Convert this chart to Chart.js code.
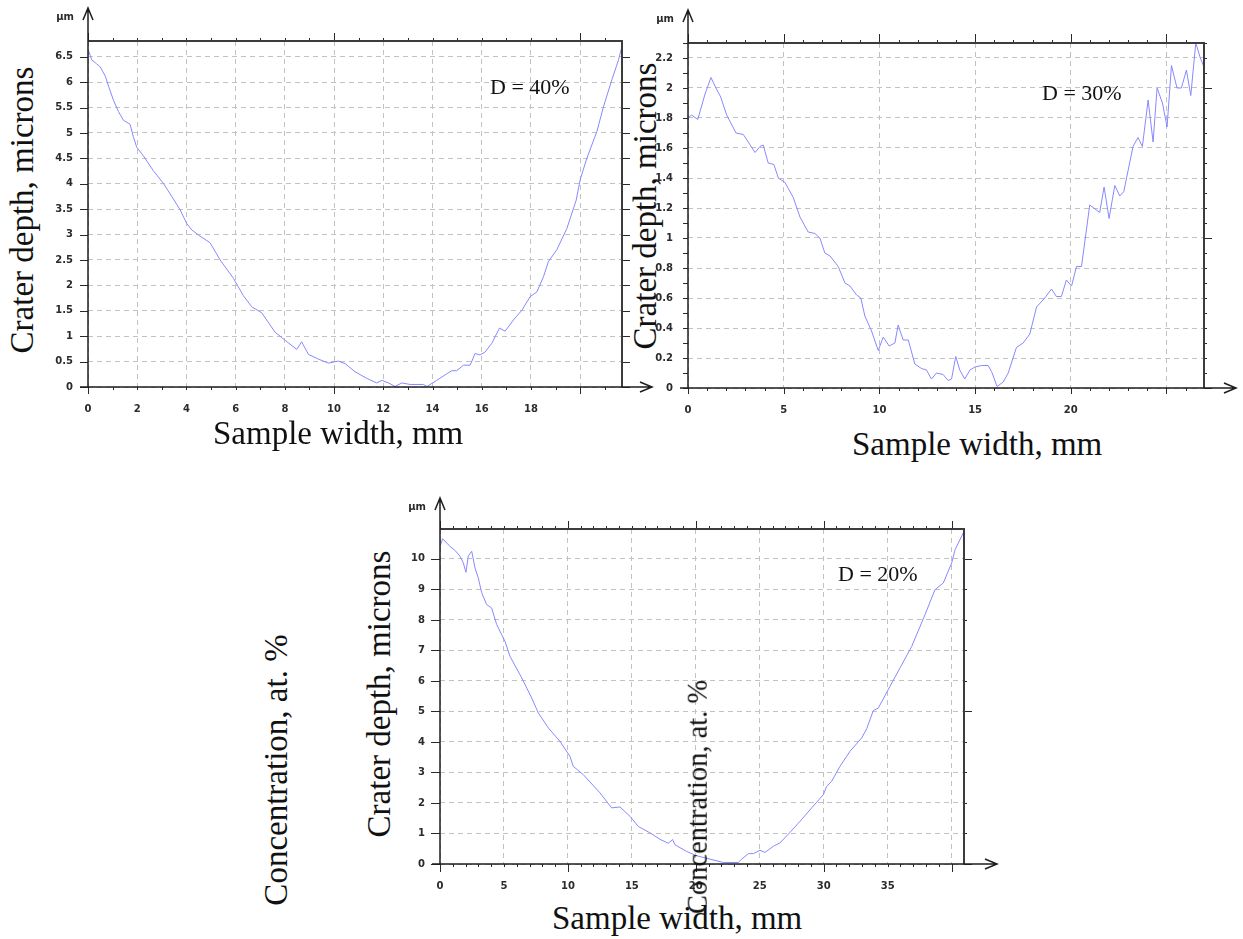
<!DOCTYPE html>
<html>
<head>
<meta charset="utf-8">
<title>Crater depth profiles</title>
<script src="https://cdn.jsdelivr.net/npm/chart.js@4.4.1/dist/chart.umd.min.js"></script>
<style>
  html, body { margin: 0; padding: 0; background: #fff; }
  body { width: 1243px; height: 939px; position: relative; overflow: hidden; }
  canvas { position: absolute; }
  .lbl { position: absolute; font-family: "Liberation Serif", "Times New Roman", serif; color: #111; white-space: nowrap; line-height: 1; }
  .rot { transform: translate(-50%, -50%) rotate(-90deg); }
</style>
</head>
<body>
<div class="lbl rot" style="left:22px;top:210px;font-size:33px">Crater depth, microns</div>
<div class="lbl rot" style="left:645px;top:206px;font-size:33px">Crater depth, microns</div>
<div class="lbl rot" style="left:379px;top:694px;font-size:33px">Crater depth, microns</div>
<div class="lbl rot" style="left:276px;top:770px;font-size:33px">Concentration, at. %</div>

<canvas id="chart40" width="620" height="420" style="left:40px;top:0px"></canvas>
<canvas id="chart30" width="603" height="420" style="left:640px;top:0px"></canvas>
<canvas id="chart20" width="615" height="410" style="left:395px;top:490px"></canvas>

<div class="lbl" style="left:213px;top:417px;font-size:33px">Sample width, mm</div>
<div class="lbl" style="left:852px;top:428px;font-size:33px">Sample width, mm</div>
<div class="lbl" style="left:552px;top:902px;font-size:33px">Sample width, mm</div>
<div class="lbl" style="left:490px;top:76px;font-size:22px">D = 40%</div>
<div class="lbl" style="left:1042px;top:82px;font-size:22px">D = 30%</div>
<div class="lbl" style="left:838px;top:563px;font-size:22px">D = 20%</div>
<div class="lbl rot" style="left:698px;top:797px;font-size:28.5px">Concentration, at. %</div>

<script>
// --- D = 40% ---
const widths40 = [0, 0.15, 0.35, 0.5, 0.7, 0.85, 1.03, 1.24, 1.44, 1.71, 1.84, 1.98, 2.25, 2.65, 3.06, 3.47, 3.74, 4.01, 4.22, 4.55, 4.96, 5.37, 5.91, 6.31, 6.65, 7.06, 7.6, 8.01, 8.48, 8.68, 8.96, 9.36, 9.77, 10.17, 10.45, 10.85, 11.33, 11.73, 11.94, 12.21, 12.48, 12.75, 13.09, 13.63, 13.77, 14.17, 14.58, 14.78, 14.98, 15.26, 15.53, 15.73, 15.93, 16.14, 16.41, 16.72, 16.95, 17.29, 17.63, 17.97, 18.24, 18.51, 18.71, 19.05, 19.46, 19.84, 20.0, 20.27, 20.68, 20.95, 21.29, 21.56, 21.7];
const depths40 = [6.65, 6.44, 6.36, 6.3, 6.12, 5.9, 5.65, 5.42, 5.25, 5.17, 4.93, 4.72, 4.55, 4.26, 4.01, 3.7, 3.49, 3.22, 3.09, 2.97, 2.84, 2.5, 2.14, 1.8, 1.58, 1.46, 1.08, 0.92, 0.74, 0.89, 0.64, 0.55, 0.47, 0.51, 0.46, 0.3, 0.17, 0.08, 0.13, 0.08, 0.01, 0.08, 0.05, 0.05, 0.01, 0.13, 0.26, 0.32, 0.32, 0.43, 0.43, 0.66, 0.63, 0.69, 0.86, 1.16, 1.1, 1.32, 1.51, 1.78, 1.87, 2.17, 2.47, 2.7, 3.12, 3.68, 4.08, 4.5, 5.03, 5.52, 6.05, 6.44, 6.71];
const xLabels40 = ['0', '2', '4', '6', '8', '10', '12', '14', '16', '18'];
const yLabels40 = ['0', '0.5', '1', '1.5', '2', '2.5', '3', '3.5', '4', '4.5', '5', '5.5', '6', '6.5'];

// --- D = 30% ---
const widths30 = [0, 0.19, 0.51, 0.89, 1.2, 1.46, 1.71, 2.02, 2.51, 2.89, 3.15, 3.5, 3.76, 3.93, 4.19, 4.49, 4.72, 5.07, 5.5, 5.85, 6.28, 6.63, 6.89, 7.15, 7.42, 7.85, 8.2, 8.46, 8.81, 9.03, 9.24, 9.59, 9.94, 10.2, 10.51, 10.81, 10.98, 11.24, 11.51, 11.85, 12.2, 12.46, 12.72, 12.98, 13.33, 13.59, 13.77, 13.99, 14.2, 14.46, 14.73, 14.99, 15.33, 15.68, 15.86, 16.15, 16.47, 16.73, 17.16, 17.51, 17.86, 18.21, 18.64, 18.99, 19.25, 19.51, 19.77, 20.04, 20.3, 20.56, 20.99, 21.51, 21.74, 22.0, 22.3, 22.56, 22.77, 23.25, 23.51, 23.74, 24.04, 24.3, 24.51, 24.79, 25.03, 25.26, 25.55, 25.78, 26.04, 26.27, 26.53, 26.77, 26.96];
const depths30 = [1.8, 1.82, 1.79, 1.96, 2.07, 2.0, 1.94, 1.82, 1.7, 1.69, 1.64, 1.57, 1.61, 1.62, 1.5, 1.49, 1.4, 1.37, 1.27, 1.14, 1.04, 1.03, 1.0, 0.9, 0.88, 0.81, 0.7, 0.68, 0.62, 0.6, 0.48, 0.38, 0.25, 0.34, 0.28, 0.3, 0.42, 0.32, 0.32, 0.16, 0.13, 0.12, 0.06, 0.1, 0.09, 0.05, 0.06, 0.21, 0.12, 0.06, 0.12, 0.14, 0.15, 0.15, 0.11, 0.01, 0.04, 0.1, 0.27, 0.3, 0.36, 0.54, 0.6, 0.66, 0.61, 0.61, 0.72, 0.68, 0.81, 0.81, 1.22, 1.17, 1.34, 1.13, 1.35, 1.28, 1.31, 1.61, 1.67, 1.61, 1.92, 1.64, 2.0, 1.9, 1.74, 2.15, 2.0, 2.0, 2.12, 1.95, 2.3, 2.2, 2.14];
const xLabels30 = ['0', '5', '10', '15', '20'];
const yLabels30 = ['0', '0.2', '0.4', '0.6', '0.8', '1', '1.2', '1.4', '1.6', '1.8', '2', '2.2'];

// --- D = 20% ---
const widths20 = [0, 0.21, 0.78, 1.17, 1.56, 1.82, 2.03, 2.21, 2.48, 2.74, 2.99, 3.26, 3.65, 4.04, 4.43, 5.08, 5.47, 6.39, 7.17, 7.69, 8.47, 9.38, 10.16, 10.42, 11.2, 12.51, 13.42, 14.07, 14.86, 15.51, 16.42, 17.2, 17.85, 18.19, 18.37, 19.29, 20.07, 21.11, 22.15, 23.32, 23.59, 24.11, 24.5, 25.02, 25.41, 26.06, 26.58, 27.37, 28.15, 29.06, 29.97, 30.23, 30.62, 31.27, 32.05, 32.97, 33.36, 33.88, 34.27, 35.18, 35.97, 36.88, 37.92, 38.7, 39.35, 40.01, 40.27, 40.97];
const depths20 = [10.41, 10.66, 10.41, 10.28, 10.09, 9.87, 9.56, 10.09, 10.25, 9.7, 9.38, 8.89, 8.5, 8.39, 7.85, 7.3, 6.81, 6.1, 5.44, 4.95, 4.46, 4.02, 3.53, 3.2, 2.93, 2.33, 1.84, 1.87, 1.56, 1.23, 1.02, 0.81, 0.68, 0.8, 0.63, 0.41, 0.27, 0.16, 0.05, 0.05, 0.16, 0.34, 0.34, 0.45, 0.38, 0.58, 0.69, 1.04, 1.4, 1.84, 2.27, 2.54, 2.71, 3.2, 3.69, 4.13, 4.43, 5.03, 5.11, 5.82, 6.43, 7.13, 8.17, 8.99, 9.21, 9.87, 10.3, 10.9];
const xLabels20 = ['0', '5', '10', '15', '20', '25', '30', '35'];
const yLabels20 = ['0', '1', '2', '3', '4', '5', '6', '7', '8', '9', '10'];

const tickFont = { family: 'DejaVu Sans', size: 10, weight: 'bold' };

function tickText(v, labels) {
  const hit = labels.find(l => Math.abs(parseFloat(l) - v) < 1e-6);
  return hit === undefined ? '' : hit;
}

// Origin-style frame: minor/major ticks on all four sides, open arrows, unit label
const originFrame = {
  id: 'originFrame',
  afterDraw(chart, args, o) {
    const ctx = chart.ctx;
    const { left: L, right: R, top: T, bottom: B } = chart.chartArea;
    const sx = chart.scales.x, sy = chart.scales.y;

    const marks = (scale, spec, draw) => {
      for (let i = 0; ; i++) {
        const v = i * spec.minor;
        if (v > scale.max + 1e-9) break;
        const r = v / spec.major;
        const major = Math.abs(r - Math.round(r)) < 1e-6;
        draw(Math.round(scale.getPixelForValue(v)) + 0.5, major ? spec.majorLen : spec.minorLen);
      }
    };

    ctx.save();
    ctx.strokeStyle = '#2a2a2a';
    ctx.lineWidth = 1;
    ctx.beginPath();
    marks(sx, o.top, (p, len) => { ctx.moveTo(p, T); ctx.lineTo(p, T - len); });
    marks(sx, o.bottom, (p, len) => { ctx.moveTo(p, B); ctx.lineTo(p, B + len); });
    marks(sy, o.left, (p, len) => { ctx.moveTo(L, p); ctx.lineTo(L - len, p); });
    marks(sy, o.right, (p, len) => { ctx.moveTo(R, p); ctx.lineTo(R + len, p); });
    ctx.stroke();

    // top and right frame
    ctx.lineWidth = 2;
    ctx.strokeStyle = '#3c3c3c';
    ctx.beginPath();
    ctx.moveTo(L, T); ctx.lineTo(R, T);
    ctx.moveTo(R, T - 1); ctx.lineTo(R, B);
    ctx.stroke();

    // axes with arrows
    const tipY = T - o.arrowUp, tipX = R + o.arrowRight;
    ctx.lineWidth = 1.5;
    ctx.strokeStyle = '#1e1e1e';
    ctx.beginPath();
    ctx.moveTo(L, B); ctx.lineTo(L, tipY);
    ctx.moveTo(L - 8, B); ctx.lineTo(tipX, B);
    ctx.moveTo(L - 5, tipY + 12); ctx.lineTo(L, tipY); ctx.lineTo(L + 5, tipY + 12);
    ctx.moveTo(tipX - 12, B - 5); ctx.lineTo(tipX, B); ctx.lineTo(tipX - 12, B + 5);
    ctx.stroke();

    ctx.fillStyle = '#2b2b2b';
    ctx.font = 'bold 10px "DejaVu Sans"';
    ctx.textAlign = 'right';
    ctx.textBaseline = 'alphabetic';
    ctx.fillText('µm', L - 14, tipY + 12);
    ctx.restore();
  }
};

function axis(min, max, step, labels, size, isX) {
  return {
    type: 'linear',
    min: min,
    max: max,
    afterFit: s => { if (isX) s.height = size; else s.width = size; },
    border: { display: false, dash: [5, 4] },
    grid: { color: '#c2c2c2', lineWidth: 1, drawTicks: false },
    ticks: {
      stepSize: step,
      includeBounds: false,
      autoSkip: false,
      maxRotation: 0,
      padding: isX ? 16 : 15,
      color: '#2b2b2b',
      font: tickFont,
      callback: v => tickText(v, labels)
    }
  };
}

function makeProfile(id, widths, depths, c) {
  const points = widths.map((w, i) => ({ x: w, y: depths[i] }));
  return new Chart(document.getElementById(id), {
    type: 'line',
    data: {
      datasets: [{
        data: points,
        borderColor: '#8888ff',
        borderWidth: 1,
        pointRadius: 0,
        tension: 0,
        fill: false
      }]
    },
    options: {
      responsive: false,
      animation: false,
      devicePixelRatio: 1,
      layout: { padding: { top: c.padTop, right: c.padRight, left: 0, bottom: 0 } },
      plugins: {
        legend: { display: false },
        tooltip: { enabled: false },
        originFrame: c.frame
      },
      scales: {
        x: axis(0, c.xMax, c.xStep, c.xLabels, c.xAxisH, true),
        y: axis(0, c.yMax, c.yStep, c.yLabels, c.yAxisW, false)
      }
    },
    plugins: [originFrame]
  });
}

makeProfile('chart40', widths40, depths40, {
  xMax: 21.7, xStep: 2, xLabels: xLabels40,
  yMax: 6.81, yStep: 0.5, yLabels: yLabels40,
  padTop: 41, padRight: 38, xAxisH: 33, yAxisW: 48,
  frame: {
    top: { minor: 1, major: 10, minorLen: 3, majorLen: 8 },
    bottom: { minor: 1, major: 10, minorLen: 3, majorLen: 7 },
    left: { minor: 0.5, major: 0.5, minorLen: 8, majorLen: 8 },
    right: { minor: 0.5, major: 0.5, minorLen: 8, majorLen: 8 },
    arrowUp: 33, arrowRight: 30
  }
});

makeProfile('chart30', widths30, depths30, {
  xMax: 26.96, xStep: 5, xLabels: xLabels30,
  yMax: 2.3, yStep: 0.2, yLabels: yLabels30,
  padTop: 43, padRight: 39, xAxisH: 32, yAxisW: 48,
  frame: {
    top: { minor: 1, major: 5, minorLen: 3, majorLen: 9 },
    bottom: { minor: 1, major: 5, minorLen: 3, majorLen: 6 },
    left: { minor: 0.1, major: 0.1, minorLen: 5, majorLen: 5 },
    right: { minor: 0.1, major: 1, minorLen: 3, majorLen: 8 },
    arrowUp: 33, arrowRight: 32
  }
});

makeProfile('chart20', widths20, depths20, {
  xMax: 40.97, xStep: 5, xLabels: xLabels20,
  yMax: 10.98, yStep: 1, yLabels: yLabels20,
  padTop: 39, padRight: 46, xAxisH: 36, yAxisW: 45,
  frame: {
    top: { minor: 1, major: 10, minorLen: 3, majorLen: 8 },
    bottom: { minor: 1, major: 10, minorLen: 3, majorLen: 8 },
    left: { minor: 1, major: 1, minorLen: 9, majorLen: 9 },
    right: { minor: 1, major: 5, minorLen: 3, majorLen: 8 },
    arrowUp: 31, arrowRight: 33
  }
});
</script>
</body>
</html>
